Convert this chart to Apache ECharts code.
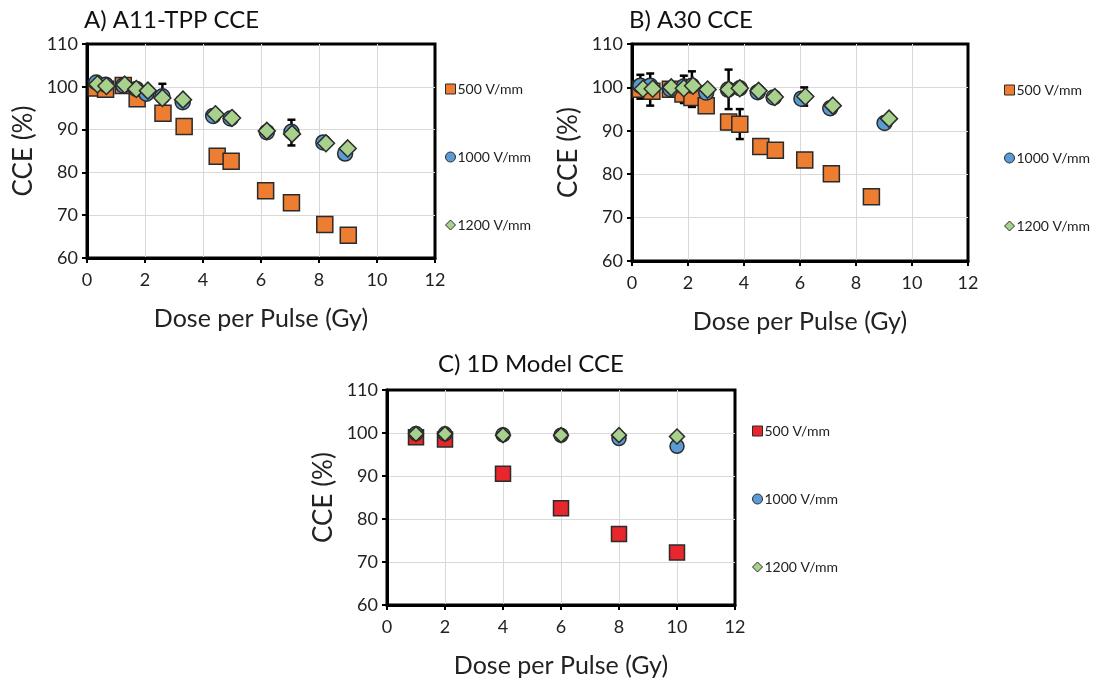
<!DOCTYPE html>
<html>
<head>
<meta charset="utf-8">
<script src="https://cdn.jsdelivr.net/npm/echarts@6/dist/echarts.min.js"></script>
<style>
html, body { margin: 0; padding: 0; background: #fff; }
#chart { width: 1094px; height: 679px; }
</style>
</head>
<body>
<div id="chart"></div>
<script>
var seriesNames = ["500 V/mm", "1000 V/mm", "1200 V/mm"];
var panelTitles = ["A) A11-TPP CCE", "B) A30 CCE", "C) 1D Model CCE"];

// panel A : A11-TPP
var a500 = [[0.32, 99.7], [0.64, 99.4], [1.25, 100.3], [1.73, 97.2], [2.62, 93.8], [3.35, 90.7], [4.49, 83.8], [4.97, 82.6], [6.16, 75.7], [7.05, 72.9], [8.2, 67.8], [9.01, 65.3]];
var a1000 = [[0.32, 101.0], [0.64, 100.5], [1.25, 100.3], [1.7, 99.5], [2.05, 98.4], [2.6, 97.8], [3.3, 96.4], [4.35, 93.2], [4.95, 92.6], [6.2, 89.4], [7.05, 89.5], [8.15, 87.0], [8.9, 84.4]];
var a1200 = [[0.36, 100.6], [0.67, 100.2], [1.3, 100.5], [1.7, 99.5], [2.1, 99.1], [2.6, 97.4], [3.31, 97.0], [4.43, 93.6], [5.0, 92.7], [6.2, 89.7], [7.07, 89.0], [8.24, 86.8], [8.99, 85.6]];
var aErr = [[0.32, 99.6, 102.2], [0.64, 98.9, 101.8], [2.6, 95.6, 100.7], [3.35, 89.1, 92.3], [6.2, 88.6, 90.5], [7.05, 86.3, 92.3]];

// panel B : A30
var b500 = [[0.3, 99.6], [0.71, 99.1], [1.37, 99.6], [1.82, 98.5], [2.14, 97.7], [2.65, 95.8], [3.45, 92.0], [3.85, 91.5], [4.6, 86.4], [5.12, 85.5], [6.17, 83.3], [7.12, 80.1], [8.55, 74.8]];
var b1000 = [[0.3, 100.4], [0.65, 100.4], [1.37, 99.6], [1.85, 100.2], [2.14, 100.4], [2.65, 98.8], [3.43, 99.5], [3.85, 99.8], [4.49, 98.9], [5.06, 97.7], [6.05, 97.4], [7.08, 95.2], [9.02, 91.8]];
var b1200 = [[0.39, 99.7], [0.74, 99.7], [1.4, 100.0], [1.85, 99.8], [2.18, 100.4], [2.7, 99.5], [3.45, 99.5], [3.85, 99.8], [4.52, 99.2], [5.1, 97.8], [6.19, 97.9], [7.17, 95.8], [9.18, 92.8]];
var bErr = [[0.3, 97.4, 102.9], [0.65, 95.8, 103.2], [1.85, 96.4, 102.7], [2.14, 95.5, 103.7], [3.45, 95.0, 104.1], [3.85, 88.1, 95.0], [3.45, 90.4, 93.2], [6.15, 95.8, 100.0], [6.17, 81.8, 84.5]];

// panel C : 1D model
var c500 = [[1, 99.0], [2, 98.5], [4, 90.5], [6, 82.5], [8, 76.5], [10, 72.2]];
var c1000 = [[1, 99.9], [2, 99.8], [4, 99.6], [6, 99.5], [8, 98.7], [10, 96.9]];
var c1200 = [[1, 99.8], [2, 99.8], [4, 99.5], [6, 99.5], [8, 99.5], [10, 99.2]];

var xTicks = [0, 12, 2];
var yTicks = [60, 110, 10];

var FONT = "Lato";
var chart = echarts.init(document.getElementById("chart"));

var grids = [
  { left: 87, top: 44, width: 348, height: 214 },
  { left: 632, top: 44, width: 336, height: 217 },
  { left: 387, top: 390, width: 348, height: 217 }
];

function xAxisFor(i) {
  return {
    gridIndex: i, type: "value", min: xTicks[0], max: xTicks[1], interval: xTicks[2],
    name: "Dose per Pulse (Gy)", nameLocation: "middle", nameGap: 48,
    nameTextStyle: { fontFamily: FONT, fontSize: 25, color: "#222" },
    axisLine: { show: true, onZero: false, lineStyle: { color: "#000", width: 3 } },
    axisTick: { show: true, length: 5, lineStyle: { color: "#000", width: 2 } },
    axisLabel: { fontFamily: FONT, fontSize: 18, color: "#222", margin: 13 },
    splitLine: { show: true, showMinLine: false, showMaxLine: false, lineStyle: { color: "#d9d9d9", width: 1 } }
  };
}
function yAxisFor(i) {
  return {
    gridIndex: i, type: "value", min: yTicks[0], max: yTicks[1], interval: yTicks[2],
    name: "CCE (%)", nameLocation: "middle", nameGap: 50,
    nameTextStyle: { fontFamily: FONT, fontSize: 26, color: "#222" },
    axisLine: { show: true, onZero: false, lineStyle: { color: "#000", width: 3 } },
    axisTick: { show: true, length: 5, lineStyle: { color: "#000", width: 2 } },
    axisLabel: { fontFamily: FONT, fontSize: 18, color: "#222", margin: 9 },
    splitLine: { show: true, showMinLine: false, showMaxLine: false, lineStyle: { color: "#d9d9d9", width: 1 } }
  };
}

function errSeries(i, data) {
  return {
    type: "custom", xAxisIndex: i, yAxisIndex: i, z: 1, silent: true,
    data: data,
    renderItem: function (params, api) {
      var lo = api.coord([api.value(0), api.value(1)]);
      var hi = api.coord([api.value(0), api.value(2)]);
      var cap = 4;
      var st = { stroke: "#000", lineWidth: 2.5 };
      return {
        type: "group",
        children: [
          { type: "line", shape: { x1: lo[0], y1: lo[1], x2: hi[0], y2: hi[1] }, style: st },
          { type: "line", shape: { x1: lo[0] - cap, y1: lo[1], x2: lo[0] + cap, y2: lo[1] }, style: st },
          { type: "line", shape: { x1: hi[0] - cap, y1: hi[1], x2: hi[0] + cap, y2: hi[1] }, style: st }
        ]
      };
    }
  };
}

function pts(i, name, data, symbol, size, color) {
  return {
    name: name, type: "scatter", xAxisIndex: i, yAxisIndex: i, z: 3,
    data: data, symbol: symbol, symbolSize: size,
    itemStyle: { color: color, borderColor: "#2b2b2b", borderWidth: 1.5, opacity: 1 }
  };
}

var orange = "#ED7D31", blue = "#5B9BD5", green = "#A9D18E", red = "#E8262C";

function legendFor(left, top, sqColor) {
  return {
    orient: "vertical", left: left, top: top, itemGap: 54,
    itemWidth: 10, itemHeight: 10, selectedMode: false,
    textStyle: { fontFamily: FONT, fontSize: 14, color: "#222", padding: [0, 0, 0, -3] },
    data: [
      { name: seriesNames[0], icon: "rect", itemStyle: { color: sqColor, borderColor: "#2b2b2b", borderWidth: 1 } },
      { name: seriesNames[1], icon: "circle", itemStyle: { color: blue, borderColor: "#2b2b2b", borderWidth: 1 } },
      { name: seriesNames[2], icon: "diamond", itemStyle: { color: green, borderColor: "#2b2b2b", borderWidth: 1 } }
    ]
  };
}

var titleStyle = { fontFamily: FONT, fontSize: 24, fontWeight: "normal", color: "#111" };

chart.setOption({
  backgroundColor: "#fff",
  animation: false,
  title: [
    { text: panelTitles[0], left: 79, top: 3, textStyle: titleStyle },
    { text: panelTitles[1], left: 624, top: 3, textStyle: titleStyle },
    { text: panelTitles[2], left: 433, top: 347, textStyle: titleStyle }
  ],
  grid: grids.map(function (g) {
    return Object.assign({ show: true, borderColor: "#000", borderWidth: 3, backgroundColor: "transparent" }, g);
  }),
  legend: [
    legendFor(440, 77, orange),
    legendFor(999, 78, orange),
    legendFor(747, 419, red)
  ],
  xAxis: [xAxisFor(0), xAxisFor(1), xAxisFor(2)],
  yAxis: [yAxisFor(0), yAxisFor(1), yAxisFor(2)],
  series: [
    errSeries(0, aErr),
    pts(0, seriesNames[0], a500, "rect", 16, orange),
    pts(0, seriesNames[1], a1000, "circle", 15, blue),
    pts(0, seriesNames[2], a1200, "diamond", 17, green),
    errSeries(1, bErr),
    pts(1, seriesNames[0], b500, "rect", 16, orange),
    pts(1, seriesNames[1], b1000, "circle", 15, blue),
    pts(1, seriesNames[2], b1200, "diamond", 17, green),
    pts(2, seriesNames[0], c500, "rect", 15, red),
    pts(2, seriesNames[1], c1000, "circle", 14, blue),
    pts(2, seriesNames[2], c1200, "diamond", 15, green)
  ]
});
</script>
</body>
</html>
